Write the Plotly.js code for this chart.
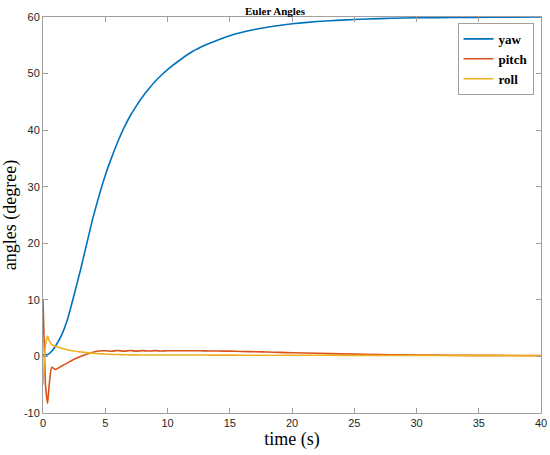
<!DOCTYPE html>
<html>
<head>
<meta charset="utf-8">
<script src="https://cdn.plot.ly/plotly-3.0.1.min.js"></script>
<style>html,body{margin:0;padding:0;background:#fff;}#plot{width:550px;height:455px;}</style>
</head>
<body>
<div id="plot"></div>
<script>
var time  = [0, 0.1, 0.2, 0.37, 0.5, 0.7, 1.0, 1.5, 2, 2.5, 3, 3.5, 4, 4.5, 5, 5.5, 6, 6.5, 7, 7.5, 8, 8.5, 9, 9.5, 10, 11, 12, 13, 14, 15, 16, 17, 18, 19, 20, 22, 24, 26, 28, 30, 33, 36, 40];
var yaw   = [0.3, 0.25, 0.25, 0.35, 0.5, 0.9, 1.8, 3.8, 6.8, 10.9, 15.2, 19.8, 24.4, 28.4, 32.0, 35.1, 37.9, 40.4, 42.5, 44.3, 45.9, 47.3, 48.6, 49.7, 50.7, 52.4, 53.9, 55.0, 55.9, 56.7, 57.3, 57.8, 58.2, 58.5, 58.8, 59.2, 59.45, 59.65, 59.78, 59.86, 59.92, 59.96, 60.0];
var pitch = [10, 2, -5, -8.3, -5, -1.9, -2.3, -1.7, -1.1, -0.5, 0.0, 0.4, 0.75, 0.95, 1.0, 0.92, 1.04, 0.93, 1.04, 0.94, 1.03, 0.95, 1.02, 0.96, 1.0, 1.0, 1.0, 0.98, 0.96, 0.93, 0.88, 0.83, 0.77, 0.71, 0.65, 0.55, 0.45, 0.37, 0.3, 0.25, 0.2, 0.18, 0.15];
var roll  = [-5, -1, 2, 3.6, 2.8, 2.1, 1.8, 1.45, 1.15, 0.95, 0.8, 0.68, 0.57, 0.48, 0.42, 0.37, 0.33, 0.3, 0.28, 0.27, 0.26, 0.25, 0.25, 0.25, 0.25, 0.25, 0.24, 0.24, 0.23, 0.23, 0.22, 0.22, 0.21, 0.21, 0.2, 0.2, 0.19, 0.18, 0.17, 0.16, 0.15, 0.14, 0.13];
var seriesNames = ['yaw', 'pitch', 'roll'];
var seriesColors = ['#0072BD', '#D95319', '#EDB120'];
var xTicks = [0, 5, 10, 15, 20, 25, 30, 35, 40];
var yTicks = [-10, 0, 10, 20, 30, 40, 50, 60];

var ys = [yaw, pitch, roll];
var traces = ys.map(function (y, i) {
  return {
    x: time, y: y, type: 'scatter', mode: 'lines', name: seriesNames[i],
    line: {color: seriesColors[i], width: 1.6, shape: 'spline', smoothing: 0.5}
  };
});

var axisCommon = {
  showline: true, mirror: 'ticks', linecolor: '#a0a0a0', linewidth: 1,
  ticks: 'inside', ticklen: 5, tickcolor: '#a0a0a0',
  showgrid: false, zeroline: false,
  tickfont: {family: 'Liberation Sans, Arial, sans-serif', size: 11, color: '#262626'}
};

var layout = {
  width: 550, height: 455,
  margin: {l: 43, r: 9, t: 17, b: 42},
  paper_bgcolor: '#ffffff', plot_bgcolor: '#ffffff',
  title: {text: '<b>Euler Angles</b>', x: 0.5, xanchor: 'center', y: 0.985, yanchor: 'top',
          font: {family: 'Liberation Serif, Times New Roman, serif', size: 11, color: '#000'}},
  xaxis: Object.assign({}, axisCommon, {
    range: [0, 40], tickvals: xTicks, ticktext: xTicks.map(String),
    title: {text: 'time (s)', standoff: 4, font: {family: 'Liberation Serif, Times New Roman, serif', size: 18, color: '#000'}}
  }),
  yaxis: Object.assign({}, axisCommon, {
    range: [-10, 60], tickvals: yTicks, ticktext: yTicks.map(String),
    title: {text: 'angles (degree)', standoff: 6, font: {family: 'Liberation Serif, Times New Roman, serif', size: 18, color: '#000'}}
  }),
  legend: {
    x: 0.985, y: 0.985, xanchor: 'right', yanchor: 'top',
    bgcolor: '#ffffff', bordercolor: '#a0a0a0', borderwidth: 1,
    font: {family: 'Liberation Serif, Times New Roman, serif', size: 13, color: '#000', weight: 'bold'},
    tracegroupgap: 0, itemwidth: 30
  },
  showlegend: true
};

Plotly.newPlot('plot', traces, layout, {displayModeBar: false, staticPlot: true});
</script>
</body>
</html>
